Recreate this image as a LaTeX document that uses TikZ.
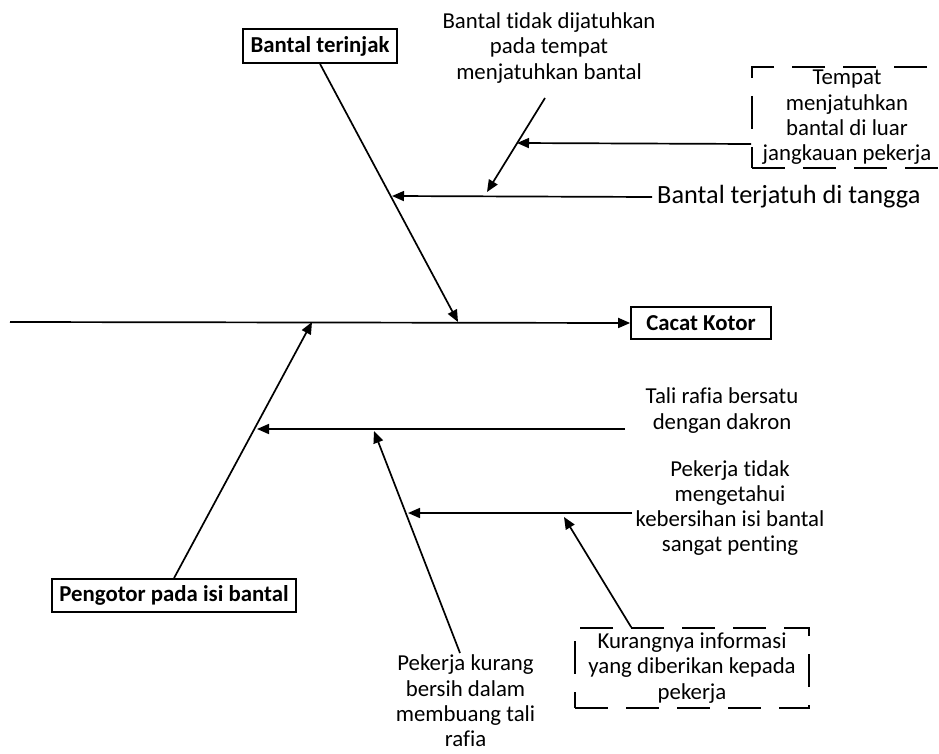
\documentclass[tikz,border=0pt]{standalone}
\usepackage{fontspec}
\setmainfont{Carlito}[Ligatures={NoCommon}]
\usetikzlibrary{arrows.meta}
\begin{document}
\begin{tikzpicture}[x=1pt,y=-1pt,
  every node/.style={font=\fontsize{22.8}{25.3}\selectfont},
  bone/.style={line width=1.7pt},
  arr/.style={bone,-{Triangle[length=12pt,width=10pt]}},
  catbox/.style={draw,line width=1.7pt,font=\fontsize{22.8}{25.3}\selectfont\bfseries,inner sep=0pt},
  dashbox/.style={draw,line width=1.7pt,dash pattern=on 33pt off 18pt,align=center,inner sep=0pt},
  lbl/.style={align=center,inner sep=0pt}]
\useasboundingbox (0,0) rectangle (939,754);

% effect and main categories
\node[catbox,minimum width=140pt,minimum height=32pt] (eff) at (701,323) {Cacat Kotor};
\node[catbox,minimum width=154pt,minimum height=34pt] (cat1) at (320,46) {Bantal terinjak};
\node[catbox,minimum width=244pt,minimum height=33pt] (cat2) at (174,595.5) {Pengotor pada isi bantal};

% cause labels
\node[lbl] (tidak) at (549,48) {Bantal tidak dijatuhkan\\pada tempat\\menjatuhkan bantal};
\node[dashbox,minimum width=190pt,minimum height=101pt] (tmp) at (847,117.5) {Tempat\\menjatuhkan\\bantal di luar\\jangkauan pekerja};
\node[lbl,anchor=west,font=\fontsize{26.3}{30}\selectfont,inner sep=5pt] (jatuh) at (652,197) {Bantal terjatuh di tangga};
\node[lbl] (tali) at (722,410.5) {Tali rafia bersatu\\dengan dakron};
\node[lbl] (pti) at (730,508) {Pekerja tidak\\mengetahui\\kebersihan isi bantal\\sangat penting};
\node[lbl] (pk) at (465.5,701) {Pekerja kurang\\bersih dalam\\membuang tali\\rafia};
\node[dashbox,minimum width=234pt,minimum height=80pt] (kur) at (692,668) {Kurangnya informasi\\yang diberikan kepada\\pekerja};

% junction points on the bones
\coordinate (tail) at (10,322);
\coordinate (j1) at (458,322);
\coordinate (j2) at (312,322);
\coordinate (j1a) at (392,196);
\coordinate (j1b) at (487,192);
\coordinate (j1c) at (517,143);
\coordinate (j2a) at (257,429);
\coordinate (j2b) at (374,431);
\coordinate (j2c) at (408,513);
\coordinate (j2d) at (564,517);
\coordinate (s1b) at (545,98);
\coordinate (s2a) at (625,429);
\coordinate (s2b) at (460,653);
\coordinate (s2c) at (632,513);

% spine
\draw[arr] (tail) -- (eff.west);

% upper bone
\draw[arr] (cat1.south) -- (j1);
\draw[arr] (jatuh.west) -- (j1a);
\draw[arr] (s1b) -- (j1b);
\draw[arr] ([yshift=-26.5pt]tmp.west) -- (j1c);

% lower bone
\draw[arr] (cat2.north) -- (j2);
\draw[arr] (s2a) -- (j2a);
\draw[arr] (s2b) -- (j2b);
\draw[arr] (s2c) -- (j2c);
\draw[arr] ([xshift=57pt]kur.north west) -- (j2d);
\end{tikzpicture}
\end{document}
